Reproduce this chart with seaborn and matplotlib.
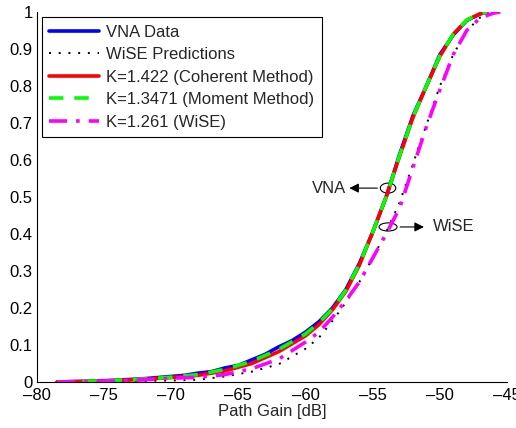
import numpy as np
import pandas as pd
import matplotlib
matplotlib.use("Agg")
import matplotlib.pyplot as plt
import seaborn as sns
from matplotlib.patches import Ellipse

# CDF of path gain
vna_x = [-78.5, -76, -74, -72, -70, -69, -68, -67, -66, -65, -64, -63, -62, -61, -60,
         -59, -58, -57, -56, -55, -54, -53, -52, -51, -50, -49, -48, -47, -46.5]
vna_y = [0.0, 0.002, 0.005, 0.009, 0.015, 0.018, 0.024, 0.028, 0.038, 0.045, 0.06, 0.075, 0.095, 0.112, 0.135,
         0.163, 0.2, 0.25, 0.32, 0.405, 0.5, 0.615, 0.72, 0.8, 0.885, 0.938, 0.977, 0.995, 1.0]

wise_x = [-78.5, -75, -72, -70, -68, -66, -64, -62, -60, -59, -58, -57, -56, -55, -54,
          -53, -52, -51, -50, -49, -48, -47, -46, -45.5]
wise_y = [0.0, 0.001, 0.003, 0.004, 0.006, 0.015, 0.028, 0.048, 0.09, 0.12, 0.165, 0.215, 0.27, 0.335, 0.405,
          0.485, 0.59, 0.695, 0.8, 0.885, 0.95, 0.985, 0.998, 1.0]

coh_x = [-78.5, -75, -72, -70, -68, -66, -64, -62, -60, -59, -58, -57, -56, -55, -54,
         -53, -52, -51, -50, -49, -48, -47, -46.5]
coh_y = [0.0, 0.003, 0.007, 0.012, 0.018, 0.03, 0.05, 0.082, 0.125, 0.155, 0.195, 0.245, 0.315, 0.405, 0.5,
         0.61, 0.715, 0.8, 0.88, 0.94, 0.978, 0.995, 1.0]

mom_x = [-78.5, -75, -72, -70, -68, -66, -64, -62, -60, -59, -58, -57, -56, -55, -54,
         -53, -52, -51, -50, -49, -48, -47, -46.5]
mom_y = [0.0, 0.003, 0.008, 0.013, 0.02, 0.034, 0.056, 0.088, 0.13, 0.16, 0.198, 0.248, 0.318, 0.405, 0.5,
         0.612, 0.717, 0.8, 0.882, 0.94, 0.978, 0.995, 1.0]

k_wise_x = [-78.5, -75, -72, -70, -68, -66, -64, -62, -60, -59, -58, -57, -56, -55, -54,
            -53, -52, -51, -50, -49, -48, -47, -46, -45.5]
k_wise_y = [0.0, 0.002, 0.006, 0.01, 0.013, 0.02, 0.036, 0.062, 0.108, 0.135, 0.175, 0.22, 0.27, 0.335, 0.4,
            0.47, 0.58, 0.69, 0.79, 0.885, 0.95, 0.984, 0.997, 1.0]

x_ticks = [-80, -75, -70, -65, -60, -55, -50, -45]
y_ticks = [0, 0.1, 0.2, 0.3, 0.4, 0.5, 0.6, 0.7, 0.8, 0.9, 1.0]
y_labels = ["0", "0.1", "0.2", "0.3", "0.4", "0.5", "0.6", "0.7", "0.8", "0.9", "1"]

sns.set_style("white")
plt.rcParams["font.family"] = ["Liberation Sans", "DejaVu Sans"]
plt.rcParams["font.size"] = 12

fig = plt.figure(figsize=(5.16, 4.28), dpi=100)
ax = fig.add_axes([0.0717, 0.1075, 0.9109, 0.8645])

sns.lineplot(x=vna_x, y=vna_y, ax=ax, color="#0000ff", lw=2.6, label="VNA Data")
sns.lineplot(x=wise_x, y=wise_y, ax=ax, color="black", lw=1.4, label="WiSE Predictions")
ax.lines[-1].set_linestyle((0, (1, 4)))
sns.lineplot(x=coh_x, y=coh_y, ax=ax, color="#ff0000", lw=2.6, label="K=1.422 (Coherent Method)")
sns.lineplot(x=mom_x, y=mom_y, ax=ax, color="#00ff00", lw=2.6, label="K=1.3471 (Moment Method)")
ax.lines[-1].set_linestyle((0, (4, 3)))
sns.lineplot(x=k_wise_x, y=k_wise_y, ax=ax, color="#ff00ff", lw=2.6, label="K=1.261 (WiSE)")
ax.lines[-1].set_linestyle((0, (5, 2.5, 1, 2.5)))

# markers pointing at the two groups of curves
ax.add_patch(Ellipse((-53.86, 0.524), 1.15, 0.027, fill=False, ec="black", lw=0.8))
ax.add_patch(Ellipse((-53.86, 0.419), 1.34, 0.022, fill=False, ec="black", lw=0.8))
ax.annotate("", xy=(-56.95, 0.524), xytext=(-54.45, 0.524),
            arrowprops=dict(arrowstyle="-|>", color="black", lw=0.8, mutation_scale=14))
ax.text(-56.95, 0.524, "VNA", ha="right", va="center", fontsize=12)
ax.annotate("", xy=(-50.98, 0.419), xytext=(-53.17, 0.419),
            arrowprops=dict(arrowstyle="-|>", color="black", lw=0.8, mutation_scale=14))
ax.text(-50.5, 0.419, "WiSE", ha="left", va="center", fontsize=12)

ax.set_xlim(-80, -45)
ax.set_ylim(0, 1)
ax.set_xticks(x_ticks)
ax.set_xticklabels([str(t).replace("-", "\u2013") for t in x_ticks])
ax.set_yticks(y_ticks)
ax.set_yticklabels(y_labels)
ax.tick_params(direction="in", length=4, width=0.8, colors="black", labelsize=12, pad=3)
ax.tick_params(axis="x", pad=4)
ax.set_xlabel("Path Gain [dB]", fontsize=12, labelpad=1)
ax.set_ylabel("")
for s in ["top", "right"]:
    ax.spines[s].set_visible(False)
for s in ["left", "bottom"]:
    ax.spines[s].set_color("black")
    ax.spines[s].set_linewidth(0.8)

leg = ax.legend(loc="upper left", bbox_to_anchor=(0.0106, 0.986), borderaxespad=0,
                fontsize=12, handlelength=3.0, handletextpad=0.4, labelspacing=0.45,
                borderpad=0.45, fancybox=False, framealpha=1, edgecolor="black")
leg.get_frame().set_linewidth(0.8)

fig.savefig("out.png", dpi=100)
